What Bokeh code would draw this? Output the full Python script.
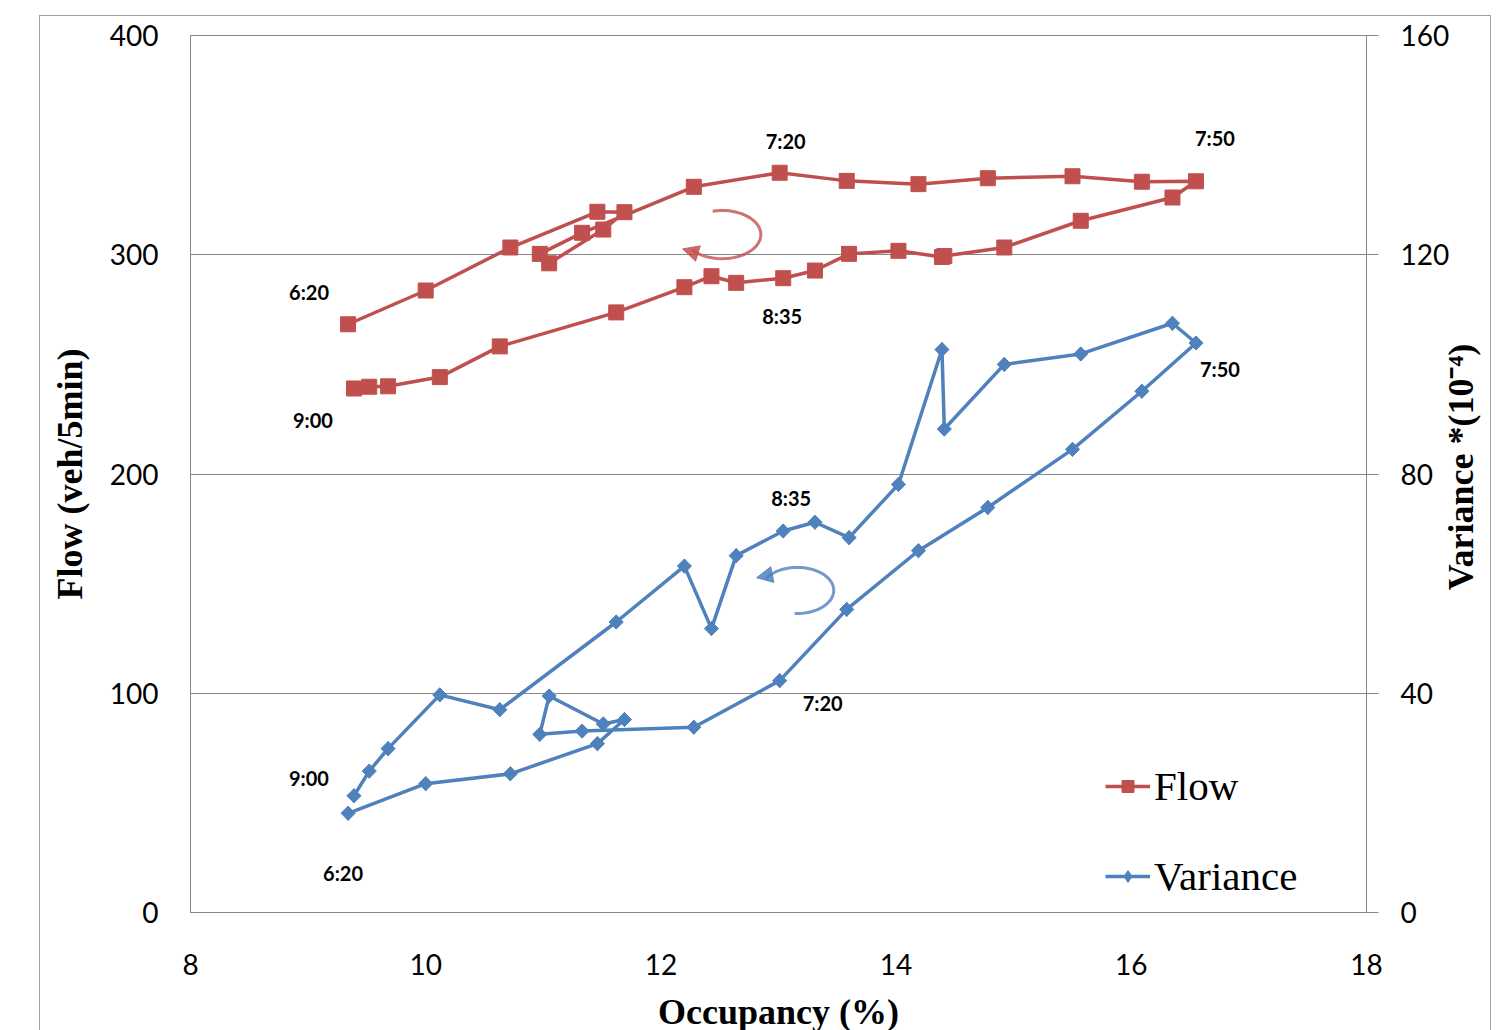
import math
from bokeh.plotting import figure
from bokeh.layouts import row
from bokeh.models import (Range1d, LinearAxis, FixedTicker, Legend, LegendItem,
                          Label, Arrow, NormalHead, ColumnDataSource, InlineStyleSheet)
from bokeh.embed import file_html
from bokeh.resources import INLINE

# ---------------- data ----------------
occupancy = [9.34, 10.00, 10.72, 11.46, 11.69, 11.51, 11.05, 10.97, 11.33, 12.28, 13.01,
             13.58, 14.19, 14.78, 15.50, 16.09, 16.55,
             16.35, 15.57, 14.92, 14.41, 14.39, 14.02, 13.60, 13.31, 13.04, 12.64, 12.43,
             12.20, 11.62, 10.63, 10.12, 9.68, 9.52, 9.39]
flow = [268.3, 283.7, 303.3, 319.6, 319.4, 311.5, 296.1, 300.4, 310.0, 331.0, 337.4,
        333.7, 332.2, 334.9, 335.8, 333.3, 333.5,
        326.1, 315.5, 303.3, 299.4, 299.0, 301.8, 300.4, 292.8, 289.3, 287.2, 290.2,
        285.2, 273.7, 258.2, 244.2, 240.0, 239.8, 239.0]
variance = [18.1, 23.5, 25.3, 30.8, 35.2, 34.4, 39.5, 32.5, 33.1, 33.8, 42.3,
            55.3, 66.0, 73.9, 84.5, 95.1, 103.9,
            107.5, 101.9, 100.0, 88.2, 102.7, 78.1, 68.4, 71.2, 69.6, 65.1, 51.8,
            63.2, 53.0, 37.0, 39.7, 29.9, 25.8, 21.3]

x_ticks = [8, 10, 12, 14, 16, 18]
flow_ticks = [0, 100, 200, 300, 400]
var_ticks = [0, 40, 80, 120, 160]

time_names = ["6:20", "7:20", "7:50", "8:35", "9:00"]
time_index = [0, 10, 16, 25, 34]

# ---------------- style ----------------
RED = "#C0504D"
BLUE = "#4F81BD"
GRAY = "#878787"
TICK_FONT = "Lato"
SERIF = "Liberation Serif"

flow_label_offsets = {"6:20": (-39, 32), "7:20": (6, 32), "7:50": (19, 43),
                      "8:35": (-1, -38), "9:00": (-41, -32)}
var_label_offsets = {"6:20": (-5, -60), "7:20": (43, -22), "7:50": (24, -26),
                     "8:35": (8, 33), "9:00": (-45, 18)}

p = figure(width=1454, height=1034, x_range=Range1d(8, 18), y_range=Range1d(0, 400),
           output_backend="svg", toolbar_location=None,
           min_border_left=190, min_border_right=88, min_border_top=35,
           min_border_bottom=122)
p.extra_y_ranges = {"var": Range1d(0, 160)}

p.background_fill_color = "white"
p.border_fill_color = "white"
p.outline_line_color = GRAY
p.outline_line_width = 1

# grid
p.xgrid.grid_line_color = None
p.ygrid.ticker = FixedTicker(ticks=flow_ticks)
p.ygrid.grid_line_color = GRAY
p.ygrid.grid_line_width = 1

# x axis
xa = p.xaxis[0]
xa.ticker = FixedTicker(ticks=x_ticks)
xa.axis_label = "Occupancy (%)"
xa.axis_label_text_font = SERIF
xa.axis_label_text_font_style = "bold"
xa.axis_label_text_font_size = "36px"
xa.axis_label_text_color = "black"
xa.axis_label_standoff = 14
xa.major_label_text_font = TICK_FONT
xa.major_label_text_font_size = "28px"
xa.major_label_text_color = "black"
xa.major_label_standoff = 41
xa.major_tick_out = 0
xa.major_tick_in = 0
xa.minor_tick_out = 0
xa.minor_tick_in = 0
xa.axis_line_color = GRAY

# left axis
ya = p.yaxis[0]
ya.ticker = FixedTicker(ticks=flow_ticks)
ya.axis_label = "Flow (veh/5min)"
ya.axis_label_text_font = SERIF
ya.axis_label_text_font_style = "bold"
ya.axis_label_text_font_size = "36px"
ya.axis_label_text_color = "black"
ya.axis_label_standoff = 17
ya.major_label_text_font = TICK_FONT
ya.major_label_text_font_size = "28px"
ya.major_label_text_color = "black"
ya.major_label_standoff = 32
ya.major_tick_out = 0
ya.major_tick_in = 0
ya.minor_tick_out = 0
ya.minor_tick_in = 0
ya.axis_line_color = GRAY

# right axis (ticks and labels)
ra = LinearAxis(y_range_name="var", ticker=FixedTicker(ticks=var_ticks))
ra.major_label_text_font = TICK_FONT
ra.major_label_text_font_size = "28px"
ra.major_label_text_color = "black"
ra.major_label_standoff = 22
ra.major_tick_out = 12
ra.major_tick_in = 0
ra.minor_tick_out = 0
ra.minor_tick_in = 0
ra.axis_line_color = GRAY
ra.major_tick_line_color = GRAY
p.add_layout(ra, "right")

# series
src = ColumnDataSource(dict(occ=occupancy, flow=flow, var=variance))
fl = p.line("occ", "flow", source=src, line_color=RED, line_width=3.5)
fs = p.scatter("occ", "flow", source=src, marker="square", size=15,
               fill_color=RED, line_color=RED)
vl = p.line("occ", "var", source=src, line_color=BLUE, line_width=3.5, y_range_name="var")
vd = p.scatter("occ", "var", source=src, marker="diamond", size=14,
               fill_color=BLUE, line_color=BLUE, y_range_name="var")
vs = p.scatter("occ", "var", source=src, marker="square", angle=math.pi / 4, size=10,
               fill_color=BLUE, line_color=BLUE, y_range_name="var")

# time annotations
for name, i in zip(time_names, time_index):
    dx, dy = flow_label_offsets[name]
    p.add_layout(Label(x=occupancy[i], y=flow[i], text=name, x_offset=dx, y_offset=dy,
                       text_font=TICK_FONT, text_font_style="bold", text_font_size="20px",
                       text_align="center", text_baseline="middle", text_color="black"))
    dx, dy = var_label_offsets[name]
    p.add_layout(Label(x=occupancy[i], y=variance[i], y_range_name="var", text=name,
                       x_offset=dx, y_offset=dy,
                       text_font=TICK_FONT, text_font_style="bold", text_font_size="20px",
                       text_align="center", text_baseline="middle", text_color="black"))

# circular arrows (decoration)
def loop_arrow(cx, cy, rx, ry, a0, a1, color):
    n = 40
    xs, ys = [], []
    for k in range(n + 1):
        a = math.radians(a0 + (a1 - a0) * k / n)
        xs.append(cx + rx * math.cos(a))
        ys.append(cy + ry * math.sin(a))
    p.line(xs, ys, line_color=color, line_width=3, line_alpha=0.8)
    p.add_layout(Arrow(end=NormalHead(size=16, fill_color=color, line_color=color,
                                      fill_alpha=0.85, line_alpha=0.85),
                       x_start=xs[-3], y_start=ys[-3],
                       x_end=xs[-1] - rx * 0.25, y_end=ys[-1] + ry * 0.05,
                       line_alpha=0))

loop_arrow(12.52, 309.2, 0.33, 11.0, 104, -140, RED)
loop_arrow(13.16, 146.9, 0.31, 10.5, -94, 150, BLUE)

# legend
legend = Legend(items=[LegendItem(label="Flow", renderers=[fl, fs]),
                       LegendItem(label="Variance", renderers=[vl, vd])],
                location=(915, 12), orientation="vertical",
                label_text_font=SERIF, label_text_font_size="41px",
                label_text_color="black", glyph_width=45, glyph_height=30,
                label_standoff=4, spacing=42, padding=0, margin=0,
                border_line_color=None, background_fill_alpha=0)
p.add_layout(legend, "center")

# right-hand title: a narrow companion figure whose left axis label reads bottom-to-top
p2 = figure(width=53, height=1034, x_range=Range1d(0, 1), y_range=Range1d(0, 1),
            output_backend="svg", toolbar_location=None,
            min_border_left=0, min_border_right=0, min_border_top=35,
            min_border_bottom=122)
p2.outline_line_color = None
p2.background_fill_alpha = 0
p2.border_fill_alpha = 0
p2.xgrid.visible = False
p2.ygrid.visible = False
p2.xaxis.visible = False
t = p2.yaxis[0]
t.ticker = FixedTicker(ticks=[])
t.axis_line_color = None
t.major_tick_line_color = None
t.minor_tick_line_color = None
t.axis_label = "Variance *(10\u207b\u2074)"
t.axis_label_text_font = SERIF
t.axis_label_text_font_style = "bold"
t.axis_label_text_font_size = "36px"
t.axis_label_text_color = "black"
t.axis_label_standoff = 0
p2.stylesheets = [InlineStyleSheet(css=":host { transform: translate(-17px, -7px); }")]

layout = row(p, p2)
# outer chart border drawn with CSS
layout.stylesheets = [InlineStyleSheet(css="""
:host::after {
  content: "";
  position: absolute;
  left: 39px; top: 15px; width: 1452px; height: 1040px;
  border: 1.5px solid #A0A0A0;
  box-sizing: border-box;
  pointer-events: none;
}
""")]

open("out.html", "w").write(file_html(layout, INLINE))
